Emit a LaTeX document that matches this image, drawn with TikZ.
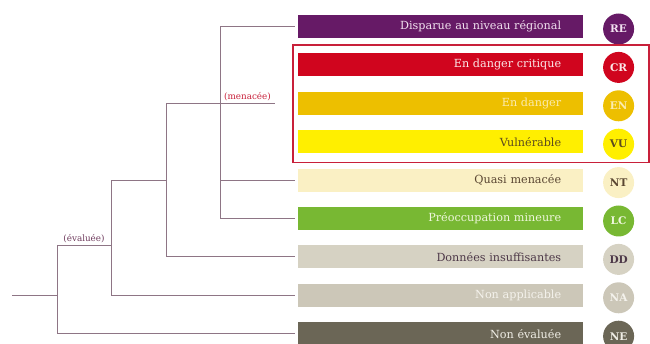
\documentclass[tikz,border=0pt]{standalone}
\usepackage{fontspec}
\setmainfont{DejaVu Serif}
\definecolor{treeline}{HTML}{8E7585}
\definecolor{threat}{HTML}{C8203A}
\definecolor{evalcol}{HTML}{6E3A5C}
\definecolor{bgre}{HTML}{661A66}\definecolor{fgre}{HTML}{F2E2F0}
\definecolor{bgcr}{HTML}{D0051E}\definecolor{fgcr}{HTML}{FBE8E8}
\definecolor{bgen}{HTML}{EDBF00}\definecolor{fgen}{HTML}{FBEBB0}
\definecolor{bgvu}{HTML}{FFEF00}\definecolor{fgvu}{HTML}{5C4A1E}
\definecolor{bgnt}{HTML}{FAF0C4}\definecolor{fgnt}{HTML}{5A4632}
\definecolor{bglc}{HTML}{78B833}\definecolor{fglc}{HTML}{EEF6DC}
\definecolor{bgdd}{HTML}{D6D2C3}\definecolor{fgdd}{HTML}{4D3848}
\definecolor{bgna}{HTML}{CCC7B8}\definecolor{fgna}{HTML}{F4F2EC}
\definecolor{bgne}{HTML}{6B6656}\definecolor{fgne}{HTML}{F0EEE6}
\usetikzlibrary{positioning}

\begin{document}
\begin{tikzpicture}[x=1pt,y=-1pt,
  bar/.style={anchor=west,minimum height=23pt,inner ysep=0pt,inner xsep=22pt,
    text width=241pt,align=right,font=\fontsize{11.2}{12}\selectfont},
  badge/.style={circle,minimum size=31pt,inner sep=0pt,font=\fontsize{10.5}{11}\selectfont\bfseries},
  tree/.style={treeline,line width=0.8pt},
  leaf/.style={tree,shorten >=3pt},
  tag/.style={font=\fontsize{8.8}{10}\selectfont,inner sep=2pt}]
\useasboundingbox (0,0) rectangle (650,344);
\foreach \k/\lab/\abbr [count=\i from 0] in {re/Disparue au niveau régional/RE,
  cr/En danger critique/CR,en/En danger/EN,vu/Vulnérable/VU,nt/Quasi menacée/NT,
  lc/Préoccupation mineure/LC,dd/Données insuffisantes/DD,na/Non applicable/NA,
  ne/Non évaluée/NE}{
\pgfmathsetmacro{\yy}{26.5+38.4*\i}
\node[bar,fill=bg\k,text=fg\k] (\k) at (298,\yy) {\lab};
\node[badge,fill=bg\k,text=fg\k,right=19.5pt of \k,yshift=-2.5pt] (\k-c) {\abbr};}
\coordinate (root) at (12,295.3);
\coordinate (eval) at (57,245);
\coordinate (sub) at (111,180.1);
\coordinate (rest) at (166,103.3);
\coordinate (thr) at (220,103.3);
\coordinate (men) at (275,103.3);
\draw[tree] (root) -- (root -| eval);
\draw[leaf] (eval) |- (ne.west);
\draw[tree] (eval) -- (eval -| sub) node[midway,above,tag,text=evalcol] {(évaluée)};
\draw[tree] (eval -| sub) -- (sub);
\draw[leaf] (sub) |- (na.west);
\draw[tree] (sub) -| (rest);
\draw[leaf] (rest) |- (dd.west);
\draw[tree] (rest) -- (thr) -- (men) node[midway,above,tag,text=threat] {(menacée)};
\draw[leaf] (thr) |- (re.west);
\draw[leaf] (thr) |- (lc.west);
\draw[leaf] (thr |- nt) -- (nt.west);
\coordinate (corner) at (vu-c.east |- vu.south);
\draw[threat,line width=1.4pt] ([shift={(-5,-8)}]cr.north west) rectangle ([shift={(14.5,9)}]corner);
\end{tikzpicture}
\end{document}
